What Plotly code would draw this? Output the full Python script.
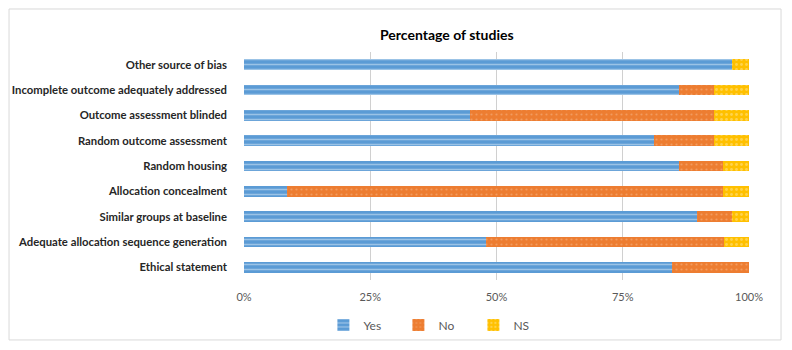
import plotly.graph_objects as go

categories = [
    "Ethical statement",
    "Adequate allocation sequence generation",
    "Similar groups at baseline",
    "Allocation concealment",
    "Random housing",
    "Random outcome assessment",
    "Outcome assessment blinded",
    "Incomplete outcome adequately addressed",
    "Other source of bias",
]
yes_vals = [84.7, 48.0, 89.7, 8.6, 86.2, 81.2, 44.8, 86.2, 96.6]
no_vals = [15.3, 47.0, 6.9, 86.2, 8.6, 11.9, 48.3, 6.9, 0.0]
ns_vals = [0.0, 5.0, 3.4, 5.2, 5.2, 6.9, 6.9, 6.9, 3.4]
x_ticks = [0, 25, 50, 75, 100]
x_tick_labels = ["0%", "25%", "50%", "75%", "100%"]

fig = go.Figure()
fig.add_trace(go.Bar(
    y=categories, x=yes_vals, name="Yes", orientation="h",
    marker=dict(color="#5B9BD5", line=dict(width=0),
                pattern=dict(shape="-", fgcolor="#DCEBF8", size=5, solidity=0.3)),
))
fig.add_trace(go.Bar(
    y=categories, x=no_vals, name="No", orientation="h",
    marker=dict(color="#ED7D31", line=dict(width=0),
                pattern=dict(shape=".", fgcolor="#F6B98F", size=5, solidity=0.15)),
))
fig.add_trace(go.Bar(
    y=categories, x=ns_vals, name="NS", orientation="h",
    marker=dict(color="#FFC000", line=dict(width=0),
                pattern=dict(shape=".", fgcolor="#FFE699", size=5, solidity=0.25)),
))

fig.update_layout(
    barmode="stack",
    bargap=0.58,
    width=776, height=334,
    margin=dict(l=236, r=35, t=44, b=62, autoexpand=False),
    paper_bgcolor="white", plot_bgcolor="white",
    font=dict(family="Lato, 'Open Sans', sans-serif", size=11, color="#595959"),
    xaxis=dict(
        range=[0, 100], tickvals=x_ticks, ticktext=x_tick_labels,
        showgrid=True, gridcolor="#D0D0D0", gridwidth=1,
        zeroline=False, showline=False, ticks="", automargin=False,
        tickfont=dict(size=11, color="#595959"), fixedrange=True,
        layer="below traces", ticklabelstandoff=9,
    ),
    yaxis=dict(
        showgrid=False, showline=False, ticks="", zeroline=False, automargin=False,
        tickfont=dict(size=11.3, color="#262626", family="Lato, sans-serif", weight="bold"),
        ticklabelstandoff=16,
    ),
    legend=dict(
        orientation="h", x=0.38, xanchor="center", y=-0.197, yanchor="middle",
        font=dict(size=12, color="#595959"), itemwidth=30,
        entrywidth=30, entrywidthmode="pixels",
        traceorder="normal", bgcolor="rgba(0,0,0,0)",
    ),
    annotations=[dict(
        text="<b>Percentage of studies</b>", xref="paper", yref="paper",
        x=0.402, y=1.075, xanchor="center", yanchor="middle", showarrow=False,
        font=dict(size=14, color="#000000", family="Lato, sans-serif"),
    )],
    shapes=[dict(
        type="rect", xref="paper", yref="paper",
        x0=-0.4653, x1=1.0634, y0=-0.263, y1=1.1886,
        line=dict(color="#D9D9D9", width=1), fillcolor="rgba(0,0,0,0)", layer="below",
    )],
)

fig.write_html("out.html")
